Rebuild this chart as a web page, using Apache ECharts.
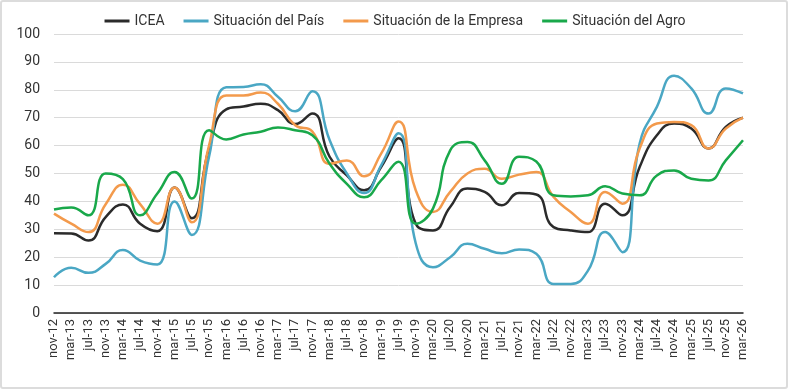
<!DOCTYPE html>
<html>
<head>
<meta charset="utf-8">
<script src="https://cdn.jsdelivr.net/npm/echarts@6/dist/echarts.min.js"></script>
<style>
html,body{margin:0;padding:0;background:#fff;}
#c{width:790px;height:391px;}
</style>
</head>
<body>
<div id="c"></div>
<script>
var categories = ["nov-12","mar-13","jul-13","nov-13","mar-14","jul-14","nov-14","mar-15","jul-15","nov-15","mar-16","jul-16","nov-16","mar-17","jul-17","nov-17","mar-18","jul-18","nov-18","mar-19","jul-19","nov-19","mar-20","jul-20","nov-20","mar-21","jul-21","nov-21","mar-22","jul-22","nov-22","mar-23","jul-23","nov-23","mar-24","jul-24","nov-24","mar-25","jul-25","nov-25","mar-26"];
var icea = [28.6,28.5,26,34.4,38.9,32,29.3,45,34,59,73,74,75,72.7,67.7,71.5,56,49.3,44,52.4,62.6,32,29.6,38,44.6,43.4,38.6,43,42.5,30.8,29.6,29,39.2,35,52.3,63.7,67.9,66.1,59,66.7,70];
var pais = [12.8,16.2,14.4,17.6,22.6,18.8,17.4,40,28,56,80.9,81,82,77.5,72.3,79.5,62,50,43,53,64.4,25,16.4,20,24.8,23,21.4,22.8,21.2,10.4,10.4,15.2,29,21.8,60.7,73.9,85,80.5,71.5,80.5,78.7];
var empresa = [35.6,32,29,39,46,39,32,45,32.5,60,78,78,79,75,67.3,65,53.5,54.7,49,57.2,68.6,44,36.2,43.4,50,51.7,48.1,49.6,50.5,41.6,36.2,32,43.4,39.2,59,67.9,68.5,67.3,59,66.1,70];
var agro = [37.1,37.8,35,50,48,35,42.8,50.5,41,65.5,62.2,64,65,66.5,65.5,63.7,53.5,46.3,41.5,47.6,54.2,32,37.4,58.3,61.3,54.7,46.3,56,54.3,42.2,41.8,42.2,45.4,42.8,42.2,49.3,51.1,48.1,47.5,54.7,61.9];
var seriesNames = ["ICEA","Situación del País","Situación de la Empresa","Situación del Agro"];
var seriesColors = ["#2b2b2b","#4aa7c4","#f39a4c","#19a84a"];
var seriesData = [icea, pais, empresa, agro];

var chart = echarts.init(document.getElementById('c'), null, {renderer:'canvas'});
var font = 'Roboto';
chart.setOption({
  animation:false,
  textStyle:{fontFamily:font},
  graphic:[{type:'rect',shape:{x:1,y:1,width:786,height:387,r:2},style:{fill:'none',stroke:'#dcdcdc',lineWidth:2},silent:true}],
  legend:{
    top:9, left:'center',
    icon:'rect', itemWidth:25, itemHeight:3, itemGap:19,
    textStyle:{fontFamily:font,fontSize:14,color:'#333'},
    data:seriesNames
  },
  grid:{left:54,right:47,top:34,bottom:78,containLabel:false},
  xAxis:{
    type:'category', data:categories, boundaryGap:false,
    axisLine:{lineStyle:{color:'#222',width:1.5}},
    axisTick:{show:false},
    axisLabel:{interval:0,rotate:90,fontFamily:font,fontSize:13,color:'#333',margin:6}
  },
  yAxis:{
    type:'value', min:0, max:100, interval:10,
    axisLine:{show:false}, axisTick:{show:false},
    splitLine:{lineStyle:{color:'#dadada',width:1}},
    axisLabel:{fontFamily:font,fontSize:14,color:'#333',margin:14}
  },
  series: seriesNames.map(function(n,i){
    return {name:n,type:'line',data:seriesData[i],smooth:0.5,symbol:'none',
      lineStyle:{color:seriesColors[i],width:2.5},itemStyle:{color:seriesColors[i]}};
  })
});
</script>
</body>
</html>
